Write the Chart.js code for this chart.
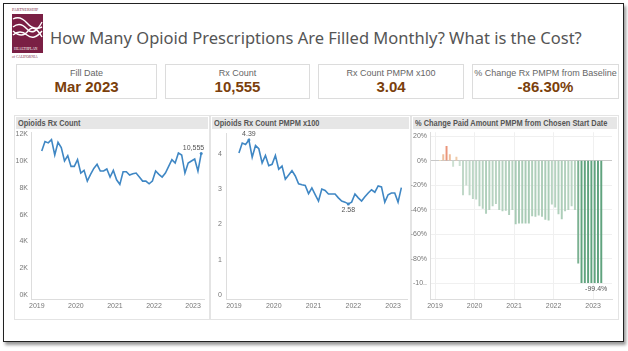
<!DOCTYPE html>
<html>
<head>
<meta charset="utf-8">
<script src="https://cdn.jsdelivr.net/npm/chart.js@4"></script>
<style>
body { margin:0; width:628px; height:351px; background:#fff; font-family:'Liberation Sans', Arial, sans-serif; overflow:hidden; position:relative; }
.frame { position:absolute; left:3px; top:3px; width:619px; height:337px; border:1px solid #222; box-shadow:2px 3px 3px #999; }
.title { position:absolute; left:50px; top:26px; font-family:'Noto Sans', sans-serif; font-size:16.5px; color:#555; white-space:nowrap; }
.kpi { position:absolute; top:64px; height:33px; border:1px solid #dcdcdc; text-align:center; }
.kpi .lbl { font-size:9px; color:#666; margin-top:3px; }
.kpi .val { font-size:15px; font-weight:bold; color:#7b3f0c; margin-top:0px; }
.panel { position:absolute; top:115px; height:203px; border:1px solid #e4e4e4; }
.band { position:absolute; left:1px; right:1px; top:1px; height:12px; background:#e6e6e6; white-space:nowrap; overflow:hidden; }
.band span { display:block; font-size:9.5px; line-height:12px; font-weight:bold; color:#555; transform:scaleX(0.78); transform-origin:left center; margin-left:2px; }
canvas { position:absolute; }
</style>
</head>
<body>
<div class="frame"></div>
<svg style="position:absolute;left:10px;top:5px" width="36" height="56" viewBox="0 0 36 56">
  <text x="2" y="6" font-size="4" fill="#7a2a45" font-family="Liberation Serif">PARTNERSHIP</text>
  <rect x="2" y="9" width="31" height="39" fill="#7a1f44"/>
  <path d="M3 14 Q10 10 17 18 T32 22" stroke="#fff" fill="none" stroke-width="1.4"/>
  <path d="M3 22 Q10 16 17 24 T32 17" stroke="#fff" fill="none" stroke-width="1.4"/>
  <path d="M3 30 Q10 24 17 30 T32 26" stroke="#fff" fill="none" stroke-width="1.4"/>
  <path d="M3 26 Q12 34 18 26 T32 32" stroke="#fff" fill="none" stroke-width="1.4"/>
  <text x="4" y="45" font-size="3.6" fill="#fff" font-family="Liberation Serif">HEALTHPLAN</text>
  <text x="2" y="53" font-size="3.6" fill="#7a2a45" font-family="Liberation Serif">of CALIFORNIA</text>
</svg>
<div class="title">How Many Opioid Prescriptions Are Filled Monthly? What is the Cost?</div>

<div class="kpi" style="left:16px;width:139px"><div class="lbl">Fill Date</div><div class="val">Mar 2023</div></div>
<div class="kpi" style="left:165px;width:143px"><div class="lbl">Rx Count</div><div class="val">10,555</div></div>
<div class="kpi" style="left:318px;width:144px"><div class="lbl">Rx Count PMPM x100</div><div class="val">3.04</div></div>
<div class="kpi" style="left:472px;width:145px"><div class="lbl">% Change Rx PMPM from Baseline</div><div class="val">-86.30%</div></div>

<div class="panel" style="left:14px;width:194px"><div class="band"><span>Opioids Rx Count</span></div></div>
<div class="panel" style="left:210px;width:199px"><div class="band"><span>Opioids Rx Count PMPM x100</span></div></div>
<div class="panel" style="left:411px;width:206px"><div class="band"><span>% Change Paid Amount PMPM from Chosen Start Date</span></div></div>

<canvas id="c1" width="194" height="192" style="left:14px;top:125px"></canvas>
<canvas id="c2" width="199" height="192" style="left:210px;top:125px"></canvas>
<canvas id="c3" width="206" height="192" style="left:411px;top:125px"></canvas>

<script>
const months = [
  'Feb 2019','Mar 2019','Apr 2019','May 2019','Jun 2019','Jul 2019','Aug 2019','Sep 2019','Oct 2019','Nov 2019','Dec 2019',
  'Jan 2020','Feb 2020','Mar 2020','Apr 2020','May 2020','Jun 2020','Jul 2020','Aug 2020','Sep 2020','Oct 2020','Nov 2020','Dec 2020',
  'Jan 2021','Feb 2021','Mar 2021','Apr 2021','May 2021','Jun 2021','Jul 2021','Aug 2021','Sep 2021','Oct 2021','Nov 2021','Dec 2021',
  'Jan 2022','Feb 2022','Mar 2022','Apr 2022','May 2022','Jun 2022','Jul 2022','Aug 2022','Sep 2022','Oct 2022','Nov 2022','Dec 2022',
  'Jan 2023','Feb 2023','Mar 2023'
];
const rxCount = [
  10750, 11450, 11350, 11600, 10450, 11400, 11000, 10000, 10400, 9600, 9600,
  10100, 9100, 9300, 8500, 9000, 9450, 9750, 9250, 9250, 9400, 8800, 9300,
  8600, 8250, 9200, 9200, 8950, 9050, 9100, 8800, 8500, 8500, 8300, 8500,
  9250, 9000, 8800, 9100, 9600, 10100, 9850, 10600, 10450, 9100, 9850, 10000,
  10150, 9250, 10555
];
const rxPmpm = [
  4.02, 4.30, 4.26, 4.39, 3.90, 4.23, 4.14, 3.74, 3.95, 3.66, 3.70,
  3.95, 3.56, 3.65, 3.28, 3.40, 3.52, 3.37, 3.15, 3.12, 3.10, 2.87, 3.03,
  2.84, 2.66, 3.00, 2.96, 2.86, 2.86, 2.86, 2.75, 2.66, 2.63, 2.58, 2.63,
  2.86, 2.75, 2.66, 2.78, 2.89, 2.98, 2.91, 3.09, 3.06, 2.63, 2.84, 2.89,
  2.89, 2.63, 3.04
];
const paidChange = [
  0, 5, 11.7, 5, -4.8, 3, -4, -28, -20, -28, -31,
  -31.5, -37, -39, -43, -40, -37, -35, -40, -41, -40.6, -44, -40,
  -51.5, -51, -51, -51, -51, -45, -45.5, -44.5, -45.5, -48, -48.5, -35.5,
  -38, -43.5, -47.5, -41, -40, -37, -40, -83.5, -99.4, -99.4, -99.4, -99.4,
  -99.4, -99.4, -99.4
];
const years = [2019, 2020, 2021, 2022, 2023];
const countTicks = [0, 2000, 4000, 6000, 8000, 10000, 12000];
const pmpmTicks = [0, 1, 2, 3, 4];
const changeTicks = [20, 0, -20, -40, -60, -80, -100];
const changeTickLabels = ['20%', '0%', '-20%', '-40%', '-60%', '-80%', '-10..'];

const monthNames = ['Jan','Feb','Mar','Apr','May','Jun','Jul','Aug','Sep','Oct','Nov','Dec'];
function toYear(label) {
  const [m, y] = label.split(' ');
  return +y + (monthNames.indexOf(m) + 0.5) / 12;
}
const pts = vals => vals.map((v, i) => ({ x: toYear(months[i]), y: v }));

Chart.defaults.font.family = "'Liberation Sans', Arial, sans-serif";
Chart.defaults.font.size = 7;
Chart.defaults.color = '#777';
Chart.defaults.animation = false;

const lineColor = '#3f87c4';

const pointLabels = {
  id: 'pointLabels',
  afterDatasetsDraw(chart, args, opts) {
    const ctx = chart.ctx;
    const meta = chart.getDatasetMeta(0);
    ctx.save();
    ctx.font = "7px 'Liberation Sans', Arial";
    ctx.fillStyle = '#555';
    (opts.items || []).forEach(it => {
      const el = meta.data[it.index];
      ctx.textAlign = it.align || 'center';
      ctx.textBaseline = it.below ? 'top' : 'bottom';
      ctx.fillText(it.text, el.x + (it.dx || 0), el.y + (it.below ? 3 : -2));
    });
    ctx.restore();
  }
};

function xScale(min, max) {
  return {
    type: 'linear', min: min, max: max, offset: false,
    afterBuildTicks: s => { s.ticks = years.map(v => ({ value: v })); },
    afterFit: s => { s.height = 18; },
    ticks: { callback: v => String(v), padding: 3, maxRotation: 0, autoSkip: false },
    grid: { display: false, drawTicks: false, offset: false },
    border: { color: '#ddd' }
  };
}

// chart 1 - Rx count
const last = rxCount.length - 1;
new Chart(document.getElementById('c1'), {
  type: 'line',
  data: { datasets: [{
    data: pts(rxCount), borderColor: lineColor, borderWidth: 1.6, tension: 0,
    pointRadius: c => c.dataIndex === last ? 1.5 : 0, pointBackgroundColor: lineColor, pointBorderWidth: 0
  }] },
  options: {
    responsive: false, devicePixelRatio: 1,
    layout: { padding: { top: 4, right: 2, left: 0, bottom: 0 } },
    plugins: { legend: { display: false }, tooltip: { enabled: false },
      pointLabels: { items: [{ index: last, text: rxCount[last].toLocaleString('en-US'), align: 'right', dx: 3 }] } },
    scales: {
      x: xScale(2018.85, 2023.28),
      y: {
        min: -300, max: 12150,
        afterBuildTicks: s => { s.ticks = countTicks.map(v => ({ value: v })); },
        afterFit: s => { s.width = 17; },
        ticks: { callback: v => (v / 1000) + 'K', padding: 3 },
        grid: { display: false, drawTicks: false },
        border: { color: '#ddd' }
      }
    }
  },
  plugins: [pointLabels]
});

// chart 2 - Rx count PMPM x100
const maxI = rxPmpm.indexOf(Math.max(...rxPmpm));
const minI = rxPmpm.indexOf(Math.min(...rxPmpm));
new Chart(document.getElementById('c2'), {
  type: 'line',
  data: { datasets: [{
    data: pts(rxPmpm), borderColor: lineColor, borderWidth: 1.6, tension: 0,
    pointRadius: c => (c.dataIndex === maxI || c.dataIndex === minI) ? 1.5 : 0,
    pointBackgroundColor: lineColor, pointBorderWidth: 0
  }] },
  options: {
    responsive: false, devicePixelRatio: 1,
    layout: { padding: { top: 4, right: 2, left: 0, bottom: 0 } },
    plugins: { legend: { display: false }, tooltip: { enabled: false },
      pointLabels: { items: [
        { index: maxI, text: rxPmpm[maxI].toFixed(2) },
        { index: minI, text: rxPmpm[minI].toFixed(2), below: true }
      ] } },
    scales: {
      x: xScale(2018.8, 2023.35),
      y: {
        min: -0.11, max: 4.58,
        afterBuildTicks: s => { s.ticks = pmpmTicks.map(v => ({ value: v })); },
        afterFit: s => { s.width = 16; },
        ticks: { callback: v => String(v), padding: 4 },
        grid: { display: false, drawTicks: false },
        border: { color: '#ddd' }
      }
    }
  },
  plugins: [pointLabels]
});

// chart 3 - % change paid amount
function barColor(v) {
  if (v >= 0) {
    const t = Math.min(1, v / 12);
    return `rgb(${Math.round(240 - 6 * t)},${Math.round(222 - 75 * t)},${Math.round(185 - 65 * t)})`;
  }
  const t = Math.pow(Math.min(1, -v / 100), 1.6);
  return `rgb(${Math.round(205 - 110 * t)},${Math.round(224 - 62 * t)},${Math.round(210 - 85 * t)})`;
}
const lastBar = paidChange.length - 1;
new Chart(document.getElementById('c3'), {
  type: 'bar',
  data: { datasets: [{
    data: pts(paidChange), backgroundColor: paidChange.map(barColor), barThickness: 1.3
  }] },
  options: {
    responsive: false, devicePixelRatio: 1,
    layout: { padding: { top: 4, right: 5, left: 0, bottom: 0 } },
    plugins: { legend: { display: false }, tooltip: { enabled: false },
      pointLabels: { items: [{ index: lastBar, text: paidChange[lastBar].toFixed(1) + '%', align: 'right', dx: 6, below: true }] } },
    scales: {
      x: Object.assign(xScale(2018.873, 2023.48), {
        grid: { display: true, drawTicks: false, offset: false, color: '#f0f0f0' }
      }),
      y: {
        min: -112.8, max: 23.2,
        afterBuildTicks: s => { s.ticks = changeTicks.map(v => ({ value: v })); },
        afterFit: s => { s.width = 19; },
        ticks: { callback: (v, i) => changeTickLabels[i], padding: 3 },
        grid: { drawTicks: false, color: c => c.tick && c.tick.value === 0 ? '#c8c8c8' : '#f0f0f0' },
        border: { color: '#ddd' }
      }
    }
  },
  plugins: [pointLabels]
});
</script>
</body>
</html>
